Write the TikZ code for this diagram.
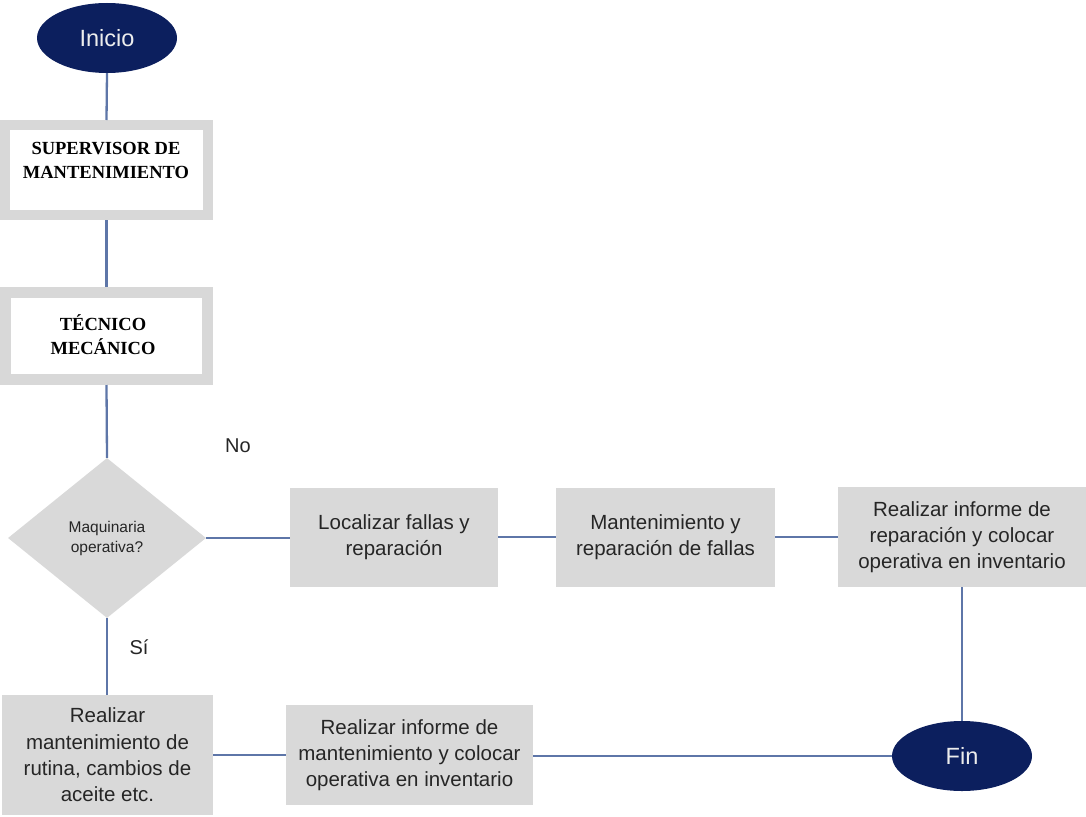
\documentclass[tikz,border=0pt]{standalone}
\usepackage{fontspec}
\setmainfont{Liberation Sans}
\newfontfamily\headserif{Liberation Serif}
\usetikzlibrary{shapes.geometric}
\definecolor{navy}{HTML}{0C1F5E}
\definecolor{boxgray}{HTML}{D9D9D9}
\definecolor{framegray}{HTML}{D8D8D8}
\definecolor{linkblue}{HTML}{5E76A8}
\definecolor{txt}{HTML}{262626}
\begin{document}
\begin{tikzpicture}[x=1pt,y=-1pt,
  terminal/.style={ellipse, fill=navy, inner sep=0pt, minimum width=140pt, minimum height=70pt,
    text=white!93!black, font=\fontsize{23.5}{28}\selectfont},
  rolebox/.style={rectangle, draw=framegray, fill=white, inner sep=0pt},
  roletext/.style={align=center, text=black, font=\headserif\bfseries\fontsize{18.5}{24}\selectfont},
  taskbox/.style={rectangle, fill=boxgray, inner sep=0pt, align=center, text=txt,
    font=\fontsize{20.5}{26.3}\selectfont},
  decision/.style={diamond, fill=boxgray, inner sep=0pt, minimum width=198pt, minimum height=160pt,
    align=center, text=txt, font=\fontsize{15.5}{20}\selectfont},
  link/.style={draw=linkblue, line width=2.3pt},
  answer/.style={text=txt, font=\fontsize{20}{24}\selectfont}]
\useasboundingbox (0,0) rectangle (1086,816);

% start / end
\node[terminal] (ini) at (107,38) {Inicio};
\node[terminal] (fin) at (962,756) {Fin};

% roles
\node[rolebox, line width=10pt, minimum width=203pt, minimum height=90pt] (sup) at (106.5,170) {};
\node[roletext] (suptxt) at (106,160) {SUPERVISOR DE\\MANTENIMIENTO};
\node[rolebox, line width=11pt, minimum width=202pt, minimum height=87pt] (tec) at (106.5,336) {};
\node[roletext] (tectxt) at (103,335) {TÉCNICO\\MECÁNICO};

% decision
\node[decision] (dec) at (107,538) {Maquinaria\\operativa?};

% tasks
\node[taskbox, minimum width=208pt, minimum height=99pt] (loc) at (394,537)
  {Localizar fallas y\\reparación};
\node[taskbox, minimum width=219pt, minimum height=99pt] (man) at (665.5,537)
  {Mantenimiento y\\reparación de fallas};
\node[taskbox, minimum width=248pt, minimum height=100pt] (rep) at (962,537)
  {Realizar informe de\\reparación y colocar\\operativa en inventario};
\node[taskbox, minimum width=247pt, minimum height=100pt] (infm) at (409.5,755)
  {Realizar informe de\\mantenimiento y colocar\\operativa en inventario};
\node[taskbox, minimum width=211pt, minimum height=120pt] (rut) at (107.5,755)
  {Realizar\\mantenimiento de\\rutina, cambios de\\aceite etc.};

% branch labels
\node[answer] (no) at (238,446) {No};
\node[answer] (si) at (139,647) {Sí};

% connectors
\draw[link] (ini.south) -- (sup.north);
\draw[link] (sup.south) -- (tec.north);
\draw[link] (tec.south) -- (dec.north);
\draw[link] (dec.east) -- (loc.west |- dec.east);
\draw[link] (loc.east) -- (man.west);
\draw[link] (man.east) -- (rep.west);
\draw[link] (rep.south) -- (fin.north);
\draw[link] (fin.west) -- (infm.east |- fin.west);
\draw[link] (rut.east) -- (infm.west);
\draw[link] (dec.south) -- (rut.north -| dec.south);
\end{tikzpicture}
\end{document}
